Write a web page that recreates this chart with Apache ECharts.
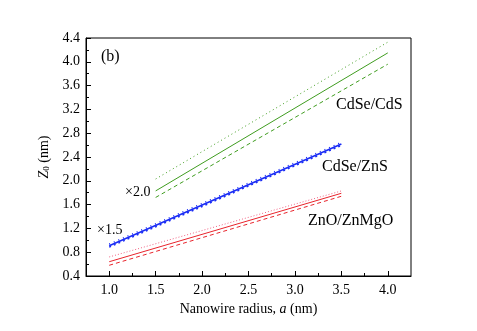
<!DOCTYPE html>
<html>
<head>
<meta charset="utf-8">
<script src="https://cdn.jsdelivr.net/npm/echarts@6/dist/echarts.min.js"></script>
<style>
  html, body { margin: 0; padding: 0; background: #fff; }
  #chartmain { width: 477px; height: 331px; }
</style>
</head>
<body>
<div id="chartmain"></div>
<script>
// x ranges of each material system
var xCdS = [1.5, 4.0];
var xZnS = [1.0, 3.5];
var xZnO = [1.0, 3.5];

// Z0 values (nm) at the ends of each line
var cdsSolid = [1.83, 4.15];
var cdsDot = [2.03, 4.33];
var cdsDash = [1.72, 3.96];

var znsSolid = [0.91, 2.62];
var znsDot = [0.935, 2.645];
var znsDash = [0.885, 2.595];

var znoSolid = [0.64, 1.79];
var znoDot = [0.72, 1.83];
var znoDash = [0.58, 1.74];

// tick labels
var xMajor = [1.0, 1.5, 2.0, 2.5, 3.0, 3.5, 4.0];
var xMinor = [1.25, 1.75, 2.25, 2.75, 3.25, 3.75];

var font = 'Liberation Serif';

function pts(xs, ys) {
    return xs.map(function (x, i) { return [x, ys[i]]; });
}

function line(name, xs, ys, color, type, width) {
    return {
        name: name,
        type: 'line',
        data: pts(xs, ys),
        showSymbol: false,
        silent: true,
        lineStyle: { color: color, type: type, width: width }
    };
}

var myChart = echarts.init(document.getElementById('chartmain'));

var option = {
    animation: false,
    grid: {
        left: 86, right: 66, top: 38, bottom: 55,
        show: true, borderColor: '#000', borderWidth: 1
    },
    xAxis: [{
        type: 'value',
        min: 0.75, max: 4.25,
        name: 'Nanowire radius, {i|a} (nm)',
        nameLocation: 'middle',
        nameGap: 21,
        nameTextStyle: {
            fontFamily: font, fontSize: 14, color: '#000',
            rich: { i: { fontFamily: font, fontSize: 14, fontStyle: 'italic', color: '#000' } }
        },
        axisLine: { lineStyle: { color: '#000' } },
        axisTick: { inside: true, length: 5, customValues: xMajor, lineStyle: { color: '#000' } },
        axisLabel: {
            customValues: xMajor, margin: 7,
            fontFamily: font, fontSize: 14, color: '#000',
            formatter: function (v) { return v.toFixed(1); }
        },
        splitLine: { show: false }
    }, {
        type: 'value',
        min: 0.75, max: 4.25,
        position: 'bottom',
        axisLine: { show: false },
        axisTick: { inside: true, length: 3, customValues: xMinor, lineStyle: { color: '#000' } },
        axisLabel: { show: false },
        splitLine: { show: false }
    }],
    yAxis: {
        type: 'value',
        min: 0.4, max: 4.4, interval: 0.4,
        name: '{i|Z}{s|0} (nm)',
        nameLocation: 'middle',
        nameGap: 28,
        nameTextStyle: {
            fontFamily: font, fontSize: 14, color: '#000',
            rich: {
                i: { fontFamily: font, fontSize: 14, fontStyle: 'italic', color: '#000' },
                s: { fontFamily: font, fontSize: 9, color: '#000', verticalAlign: 'bottom', padding: [6, 0, 0, 0] }
            }
        },
        axisLine: { show: true, lineStyle: { color: '#000' } },
        axisTick: { inside: true, length: 5, lineStyle: { color: '#000' } },
        minorTick: { show: true, splitNumber: 2, length: 3, lineStyle: { color: '#000' } },
        axisLabel: {
            margin: 6, fontFamily: font, fontSize: 14, color: '#000',
            formatter: function (v) { return v.toFixed(1); }
        },
        splitLine: { show: false }
    },
    series: [
        line('CdSe/CdS', xCdS, cdsSolid, '#3f9c1f', 'solid', 1),
        line('CdSe/CdS dot', xCdS, cdsDot, '#3f9c1f', [1, 3], 1),
        line('CdSe/CdS dash', xCdS, cdsDash, '#3f9c1f', [4, 3], 1),
        line('CdSe/ZnS', xZnS, znsSolid, '#1a2cf5', 'solid', 1.6),
        line('CdSe/ZnS dot', xZnS, znsDot, '#1a2cf5', [1, 4], 1.5),
        line('CdSe/ZnS dash', xZnS, znsDash, '#1a2cf5', [2, 3], 1.5),
        line('ZnO/ZnMgO', xZnO, znoSolid, '#e8242c', 'solid', 1),
        line('ZnO/ZnMgO dot', xZnO, znoDot, '#f06080', [1, 2], 1),
        line('ZnO/ZnMgO dash', xZnO, znoDash, '#e8242c', [4, 3], 1)
    ],
    graphic: [
        { type: 'text', left: 101, top: 49, style: { text: '(b)', font: '16px ' + font, fill: '#000' } },
        { type: 'text', left: 336, top: 97, style: { text: 'CdSe/CdS', font: '16px ' + font, fill: '#000' } },
        { type: 'text', left: 322, top: 159, style: { text: 'CdSe/ZnS', font: '16px ' + font, fill: '#000' } },
        { type: 'text', left: 308, top: 213, style: { text: 'ZnO/ZnMgO', font: '16px ' + font, fill: '#000' } },
        { type: 'text', left: 125, top: 185, style: { text: '\u00d72.0', font: '14px ' + font, fill: '#000' } },
        { type: 'text', left: 97, top: 223, style: { text: '\u00d71.5', font: '14px ' + font, fill: '#000' } }
    ]
};

myChart.setOption(option);
</script>
</body>
</html>
